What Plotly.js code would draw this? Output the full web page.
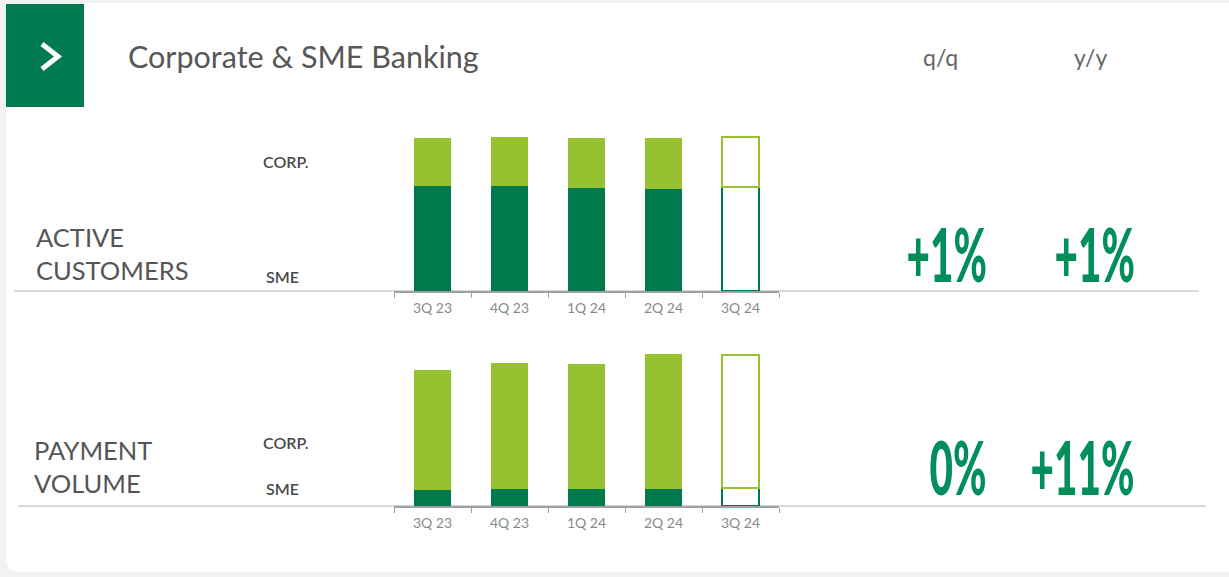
<!DOCTYPE html>
<html>
<head>
<meta charset="utf-8">
<script src="https://cdn.plot.ly/plotly-3.0.1.min.js"></script>
<style>
  html, body { margin: 0; padding: 0; background: #f2f2f2; }
  #chart { width: 1229px; height: 577px; }
  .condensed { transform-box: fill-box; transform-origin: right center; transform: scaleX(0.54); }
</style>
</head>
<body>
<div id="chart"></div>
<script>
// ---- data ----
const quarters = ['3Q 23', '4Q 23', '1Q 24', '2Q 24', '3Q 24'];
const customersSME = [105, 105, 103.5, 102.5, 104];
const customersCorp = [48.5, 49.5, 50, 50.5, 50];
const paymentSME = [16.5, 17.5, 17, 17.5, 18.5];
const paymentCorp = [120, 126, 125.5, 134.5, 132.5];
const rowLabels = ['ACTIVE<br>CUSTOMERS', 'PAYMENT<br>VOLUME'];
const growthQQ = ['+1%', '0%'];
const growthYY = ['+1%', '+11%'];

// ---- styling ----
const W = 1229, H = 577;
const X = p => p / W;
const Y = p => 1 - p / H;
const DARK = '#007a4c';
const LIGHT = '#96c232';
const NUMGREEN = '#008f5a';
const TEXTFONT = 'Lato, "Open Sans", sans-serif';
const NUMFONT = 'Lato, "Open Sans", sans-serif';

const last = quarters.length - 1;
function fills(color) { return quarters.map((q, i) => i === last ? '#ffffff' : color); }
function lineW() { return quarters.map((q, i) => i === last ? 2 : 0); }

function pair(sme, corp, xa, ya) {
  return [
    { type: 'bar', x: quarters, y: sme, xaxis: xa, yaxis: ya, name: 'SME',
      marker: { color: fills(DARK), line: { color: DARK, width: lineW() } }, hoverinfo: 'x+y' },
    { type: 'bar', x: quarters, y: corp, xaxis: xa, yaxis: ya, name: 'CORP.',
      marker: { color: fills(LIGHT), line: { color: LIGHT, width: lineW() } }, hoverinfo: 'x+y' }
  ];
}

const data = [].concat(
  pair(customersSME, customersCorp, 'x', 'y'),
  pair(paymentSME, paymentCorp, 'x2', 'y2')
);

const xBase = {
  type: 'category', range: [-0.5, 4.5], domain: [X(394), X(779)],
  showline: true, linecolor: '#a0a0a0', linewidth: 1.5,
  ticks: 'outside', tickson: 'boundaries', ticklen: 5, tickcolor: '#a0a0a0', tickwidth: 1,
  ticklabelstandoff: 4,
  tickfont: { family: TEXTFONT, size: 14, color: '#8a8a8a' },
  showgrid: false, zeroline: false, fixedrange: true
};
const yBase = { range: [0, 160], visible: false, fixedrange: true, showgrid: false, zeroline: false };

const r = 14;
const cardPath = `M ${X(6)} ${Y(3)} L ${X(1240)} ${Y(3)} L ${X(1240)} ${Y(572)} L ${X(6 + r)} ${Y(572)} Q ${X(6)} ${Y(572)} ${X(6)} ${Y(572 - r)} Z`;

const shapes = [
  { type: 'path', xref: 'paper', yref: 'paper', path: cardPath, fillcolor: '#ffffff', line: { width: 0 }, layer: 'below' },
  { type: 'rect', xref: 'paper', yref: 'paper', x0: X(6), x1: X(84), y0: Y(4), y1: Y(107), fillcolor: '#007a4f', line: { width: 0 }, layer: 'below' },
  { type: 'path', xref: 'paper', yref: 'paper',
    path: `M ${X(42)} ${Y(44)} L ${X(58)} ${Y(56.5)} L ${X(42)} ${Y(69)}`,
    line: { color: '#ffffff', width: 5 }, layer: 'above' },
  { type: 'line', xref: 'paper', yref: 'paper', x0: X(14), x1: X(1199), y0: Y(291), y1: Y(291), line: { color: '#cccccc', width: 1.5 }, layer: 'below' },
  { type: 'line', xref: 'paper', yref: 'paper', x0: X(18), x1: X(1206), y0: Y(506), y1: Y(506), line: { color: '#cccccc', width: 1.5 }, layer: 'below' }
];

function txt(text, x, y, opts) {
  return Object.assign({ text: text, xref: 'paper', yref: 'paper', x: X(x), y: Y(y),
    showarrow: false, xanchor: 'left', yanchor: 'middle', align: 'left',
    font: { family: TEXTFONT, size: 16, color: '#555555' } }, opts || {});
}

const bigFont = { family: NUMFONT, size: 75, color: NUMGREEN, weight: 900 };
const labelFont = { family: TEXTFONT, size: 16, color: '#484848', weight: 600 };
const headFont = { family: TEXTFONT, size: 23, color: '#666666', weight: 400 };
const annotations = [
  txt('Corporate &amp; SME Banking', 126, 56, { font: { family: TEXTFONT, size: 30.5, color: '#575757' } }),
  txt('q/q', 940, 57, { xanchor: 'center', font: headFont }),
  txt('y/y', 1090, 57, { xanchor: 'center', font: headFont }),
  txt(rowLabels[0], 34, 253, { font: { family: TEXTFONT, size: 25.5, color: '#555555' } }),
  txt(rowLabels[1], 32, 466, { font: { family: TEXTFONT, size: 25.5, color: '#555555' } }),
  txt('CORP.', 261, 161, { font: labelFont }),
  txt('SME', 264, 276, { font: labelFont }),
  txt('CORP.', 261, 442, { font: labelFont }),
  txt('SME', 264, 488, { font: labelFont }),
  txt(growthQQ[0], 989, 253, { xanchor: 'right', font: bigFont }),
  txt(growthYY[0], 1137, 253, { xanchor: 'right', font: bigFont }),
  txt(growthQQ[1], 989, 466, { xanchor: 'right', font: bigFont }),
  txt(growthYY[1], 1137, 466, { xanchor: 'right', font: bigFont })
];

const layout = {
  width: W, height: H,
  margin: { l: 0, r: 0, t: 0, b: 0, pad: 0 },
  paper_bgcolor: '#f2f2f2', plot_bgcolor: 'rgba(0,0,0,0)',
  barmode: 'stack', bargap: 0.52,
  showlegend: false,
  xaxis: Object.assign({}, xBase, { anchor: 'y' }),
  yaxis: Object.assign({}, yBase, { domain: [Y(291), Y(131)], anchor: 'x' }),
  xaxis2: Object.assign({}, xBase, { anchor: 'y2' }),
  yaxis2: Object.assign({}, yBase, { domain: [Y(506), Y(346)], anchor: 'x2' }),
  shapes: shapes,
  annotations: annotations
};

Plotly.newPlot('chart', data, layout, { displayModeBar: false, staticPlot: true }).then(gd => {
  gd.querySelectorAll('text.annotation-text').forEach(t => {
    if (t.textContent.indexOf('%') >= 0) t.classList.add('condensed');
  });
});
</script>
</body>
</html>
